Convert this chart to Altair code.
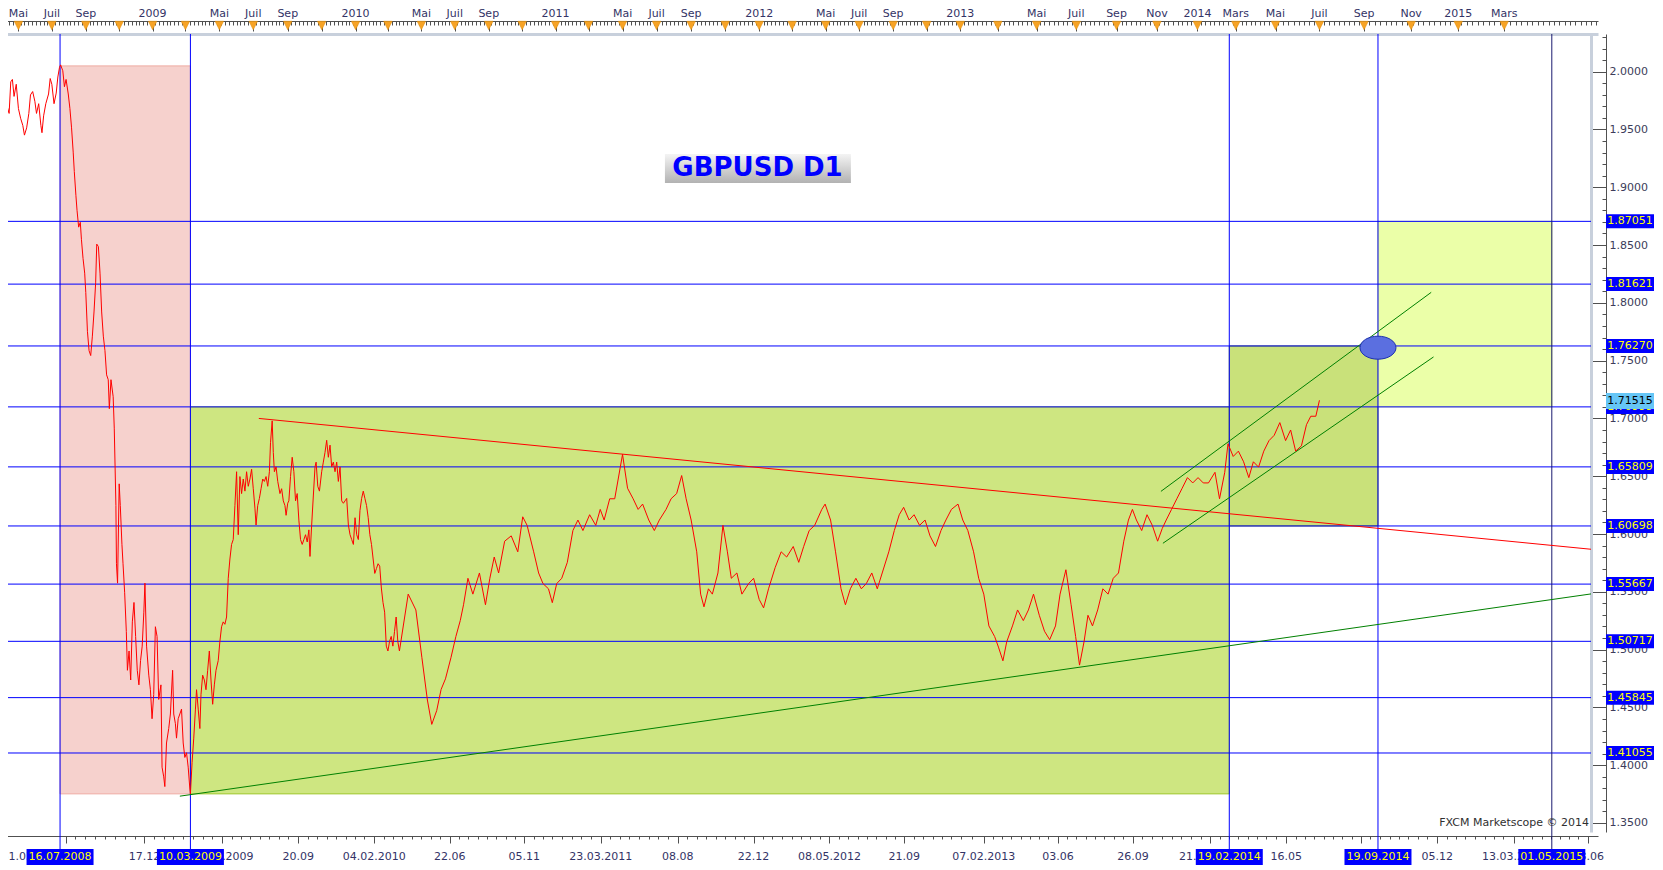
import altair as alt
import pandas as pd

# ---------------------------------------------------------------- data
PRICE_DATES = [
    "2008-03-31", "2008-04-02", "2008-04-06", "2008-04-09", "2008-04-14", "2008-04-17", "2008-04-20",
    "2008-04-23", "2008-04-27", "2008-05-01", "2008-05-05", "2008-05-09", "2008-05-12", "2008-05-16",
    "2008-05-20", "2008-05-23", "2008-05-27", "2008-05-31", "2008-06-03", "2008-06-07", "2008-06-11",
    "2008-06-13", "2008-06-16", "2008-06-20", "2008-06-25", "2008-06-28", "2008-07-01", "2008-07-05",
    "2008-07-09", "2008-07-12", "2008-07-15", "2008-07-17", "2008-07-21", "2008-07-24", "2008-07-27",
    "2008-07-31", "2008-08-03", "2008-08-06", "2008-08-09", "2008-08-11", "2008-08-14", "2008-08-16",
    "2008-08-19", "2008-08-22", "2008-08-24", "2008-08-27", "2008-08-30", "2008-09-01", "2008-09-04",
    "2008-09-07", "2008-09-10", "2008-09-13", "2008-09-16", "2008-09-19", "2008-09-21", "2008-09-24",
    "2008-09-27", "2008-09-30", "2008-10-03", "2008-10-06", "2008-10-09", "2008-10-12", "2008-10-14",
    "2008-10-17", "2008-10-21", "2008-10-23", "2008-10-26", "2008-10-27", "2008-10-29", "2008-11-01",
    "2008-11-03", "2008-11-06", "2008-11-08", "2008-11-11", "2008-11-14", "2008-11-16", "2008-11-19",
    "2008-11-22", "2008-11-25", "2008-11-28", "2008-12-01", "2008-12-04", "2008-12-07", "2008-12-10",
    "2008-12-13", "2008-12-16", "2008-12-18", "2008-12-21", "2008-12-25", "2008-12-28", "2008-12-31",
    "2009-01-03", "2009-01-06", "2009-01-09", "2009-01-12", "2009-01-16", "2009-01-18", "2009-01-21",
    "2009-01-23", "2009-01-26", "2009-01-30", "2009-02-02", "2009-02-06", "2009-02-08", "2009-02-11",
    "2009-02-13", "2009-02-16", "2009-02-19", "2009-02-22", "2009-02-25", "2009-02-28", "2009-03-03",
    "2009-03-06", "2009-03-09", "2009-03-10", "2009-03-13", "2009-03-16", "2009-03-19", "2009-03-21",
    "2009-03-24", "2009-03-27", "2009-03-29", "2009-04-01", "2009-04-04", "2009-04-07", "2009-04-10",
    "2009-04-13", "2009-04-16", "2009-04-19", "2009-04-22", "2009-04-25", "2009-04-29", "2009-05-02",
    "2009-05-05", "2009-05-08", "2009-05-11", "2009-05-14", "2009-05-17", "2009-05-20", "2009-05-23",
    "2009-05-26", "2009-05-29", "2009-06-01", "2009-06-04", "2009-06-07", "2009-06-10", "2009-06-13",
    "2009-06-16", "2009-06-19", "2009-06-22", "2009-06-25", "2009-06-28", "2009-07-01", "2009-07-04",
    "2009-07-06", "2009-07-09", "2009-07-12", "2009-07-15", "2009-07-18", "2009-07-21", "2009-07-24",
    "2009-07-27", "2009-07-30", "2009-08-01", "2009-08-04", "2009-08-06", "2009-08-08", "2009-08-11",
    "2009-08-14", "2009-08-18", "2009-08-21", "2009-08-24", "2009-08-27", "2009-08-29", "2009-09-01",
    "2009-09-03", "2009-09-06", "2009-09-09", "2009-09-12", "2009-09-15", "2009-09-18", "2009-09-21",
    "2009-09-24", "2009-09-27", "2009-09-30", "2009-10-03", "2009-10-06", "2009-10-09", "2009-10-11",
    "2009-10-14", "2009-10-17", "2009-10-20", "2009-10-22", "2009-10-25", "2009-10-28", "2009-11-01",
    "2009-11-04", "2009-11-07", "2009-11-10", "2009-11-13", "2009-11-16", "2009-11-19", "2009-11-22",
    "2009-11-25", "2009-11-28", "2009-12-01", "2009-12-04", "2009-12-07", "2009-12-10", "2009-12-13",
    "2009-12-16", "2009-12-19", "2009-12-22", "2009-12-25", "2009-12-28", "2009-12-31",
    "2010-01-03", "2010-01-06", "2010-01-09", "2010-01-12", "2010-01-15", "2010-01-18", "2010-01-21",
    "2010-01-24", "2010-01-27", "2010-01-30", "2010-02-02", "2010-02-05", "2010-02-08", "2010-02-11",
    "2010-02-14", "2010-02-17", "2010-02-20", "2010-02-23", "2010-02-26", "2010-03-01", "2010-03-04",
    "2010-03-07", "2010-03-10", "2010-03-13", "2010-03-16", "2010-03-19", "2010-03-22", "2010-04-07",
    "2010-04-21", "2010-05-02", "2010-05-12", "2010-05-20", "2010-05-29", "2010-06-06", "2010-06-14",
    "2010-06-24", "2010-07-03", "2010-07-11", "2010-07-17", "2010-07-25", "2010-08-03", "2010-08-15",
    "2010-08-26", "2010-09-03", "2010-09-11", "2010-09-19", "2010-09-30", "2010-10-12", "2010-10-24",
    "2010-11-02", "2010-11-10", "2010-11-22", "2010-12-01", "2010-12-09", "2010-12-19", "2010-12-26",
    "2011-01-03", "2011-01-12", "2011-01-22", "2011-02-01", "2011-02-10", "2011-02-19", "2011-03-03",
    "2011-03-14", "2011-03-22", "2011-03-29", "2011-04-08", "2011-04-17", "2011-04-27", "2011-05-01",
    "2011-05-10", "2011-05-20", "2011-05-29", "2011-06-06", "2011-06-17", "2011-06-27", "2011-07-06",
    "2011-07-18", "2011-07-27", "2011-08-06", "2011-08-15", "2011-08-23", "2011-09-01", "2011-09-11",
    "2011-09-18", "2011-09-24", "2011-10-02", "2011-10-09", "2011-10-19", "2011-10-28", "2011-11-05",
    "2011-11-12", "2011-11-22", "2011-12-01", "2011-12-13", "2011-12-22",
    "2012-01-01", "2012-01-09", "2012-01-18", "2012-01-30", "2012-02-10", "2012-02-20", "2012-03-03",
    "2012-03-13", "2012-03-22", "2012-04-01", "2012-04-11", "2012-04-24", "2012-04-30", "2012-05-10",
    "2012-05-19", "2012-05-29", "2012-06-06", "2012-06-15", "2012-06-25", "2012-07-05", "2012-07-14",
    "2012-07-24", "2012-08-03", "2012-08-12", "2012-08-24", "2012-09-03", "2012-09-12", "2012-09-20",
    "2012-09-30", "2012-10-09", "2012-10-19", "2012-10-29", "2012-11-07", "2012-11-17", "2012-11-27",
    "2012-12-06", "2012-12-16", "2012-12-28",
    "2013-01-05", "2013-01-13", "2013-01-22", "2013-01-30", "2013-02-07", "2013-02-15", "2013-02-24",
    "2013-03-02", "2013-03-09", "2013-03-15", "2013-03-24", "2013-04-01", "2013-04-10", "2013-04-18",
    "2013-04-26", "2013-05-05", "2013-05-13", "2013-05-21", "2013-05-30", "2013-06-06", "2013-06-15",
    "2013-06-23", "2013-06-30", "2013-07-06", "2013-07-13", "2013-07-19", "2013-07-26", "2013-08-03",
    "2013-08-11", "2013-08-19", "2013-08-27", "2013-09-04", "2013-09-12", "2013-09-19", "2013-09-25",
    "2013-10-01", "2013-10-09", "2013-10-17", "2013-10-25", "2013-11-02", "2013-11-09", "2013-11-15",
    "2013-11-23", "2013-12-01", "2013-12-09", "2013-12-17", "2013-12-25",
    "2014-01-02", "2014-01-10", "2014-01-18", "2014-01-28", "2014-02-04", "2014-02-12", "2014-02-17",
    "2014-02-25", "2014-03-05", "2014-03-13", "2014-03-21", "2014-03-28", "2014-04-05", "2014-04-13",
    "2014-04-21", "2014-04-29", "2014-05-07", "2014-05-15", "2014-05-22", "2014-05-29", "2014-06-06",
    "2014-06-13", "2014-06-19", "2014-06-26", "2014-07-01",
]
PRICE_VALUES = [
    1.9912, 1.9954, 1.9786, 1.9723, 1.9639, 1.9912, 1.9933,
    1.9786, 1.9891, 1.9681, 1.9597, 1.9535, 1.9451, 1.9514,
    1.9639, 1.9799, 1.9828, 1.9744, 1.9639, 1.9723, 1.9535,
    1.9472, 1.9618, 1.9723, 1.9807, 1.9941, 1.9891, 1.9723,
    1.9815, 1.9954, 2.0038, 2.0059, 2.0008, 1.9870, 1.9933,
    1.9807, 1.9681, 1.9514, 1.9304, 1.9137, 1.8927, 1.8801,
    1.8655, 1.8697, 1.8550, 1.8383, 1.8257, 1.8089, 1.7754,
    1.7586, 1.7544, 1.7712, 1.7921, 1.8173, 1.8508, 1.8487,
    1.8257, 1.7921, 1.7712, 1.7586, 1.7377, 1.7335, 1.7084,
    1.7335, 1.7188, 1.6916, 1.6246, 1.5743, 1.5575, 1.6434,
    1.6246, 1.5911, 1.5743, 1.5492, 1.5156, 1.4821, 1.4988,
    1.4737, 1.5240, 1.5408, 1.5114, 1.4821, 1.4695, 1.4905,
    1.5030, 1.5324, 1.5575, 1.5030, 1.4779, 1.4653, 1.4402,
    1.4611, 1.5198, 1.5114, 1.4569, 1.4695, 1.3983, 1.3899,
    1.3815, 1.4192, 1.4317, 1.4443, 1.4821, 1.4443, 1.4359,
    1.4234, 1.4402, 1.4443, 1.4485, 1.4192, 1.4067, 1.4108,
    1.3983, 1.3794, 1.3752, 1.4025, 1.4234, 1.4485, 1.4653,
    1.4485, 1.4317, 1.4611, 1.4779, 1.4737, 1.4653, 1.4821,
    1.4988, 1.4737, 1.4527, 1.4695, 1.4821, 1.4905, 1.5072,
    1.5198, 1.5240, 1.5219, 1.5282, 1.5617, 1.5784, 1.5910,
    1.5952, 1.6246, 1.6539, 1.5994, 1.6497, 1.6350, 1.6476,
    1.6371, 1.6539, 1.6413, 1.6476, 1.6560, 1.6392, 1.6224,
    1.6078, 1.6246, 1.6308, 1.6392, 1.6476, 1.6455, 1.6497,
    1.6413, 1.6539, 1.6790, 1.6979, 1.6706, 1.6539, 1.6581,
    1.6455, 1.6350, 1.6392, 1.6287, 1.6246, 1.6162, 1.6267,
    1.6287, 1.6497, 1.6664, 1.6539, 1.6287, 1.6350, 1.6120,
    1.5952, 1.5910, 1.5952, 1.5994, 1.5931, 1.6036, 1.5806,
    1.6078, 1.6329, 1.6581, 1.6622, 1.6413, 1.6371, 1.6539,
    1.6622, 1.6706, 1.6811, 1.6664, 1.6769, 1.6581, 1.6622,
    1.6539, 1.6622, 1.6455, 1.6581, 1.6287, 1.6266, 1.6287,
    1.6308, 1.6078, 1.5994, 1.5952, 1.5910, 1.6141,
    1.5994, 1.5952, 1.6204, 1.6308, 1.6371, 1.6308, 1.6246,
    1.6141, 1.5994, 1.5910, 1.5784, 1.5659, 1.5701, 1.5743,
    1.5722, 1.5533, 1.5408, 1.5324, 1.5030, 1.4988, 1.5072,
    1.5114, 1.5030, 1.5156, 1.5282, 1.5072, 1.4988, 1.5480,
    1.5343, 1.4930, 1.4564, 1.4353, 1.4472, 1.4655, 1.4747,
    1.4930, 1.5113, 1.5251, 1.5388, 1.5617, 1.5480, 1.5663,
    1.5388, 1.5617, 1.5801, 1.5663, 1.5938, 1.5984, 1.5846,
    1.6149, 1.6075, 1.5846, 1.5663, 1.5571, 1.5526, 1.5406,
    1.5571, 1.5617, 1.5755, 1.6030, 1.6121, 1.6030, 1.6167,
    1.6075, 1.6213, 1.6121, 1.6305, 1.6305, 1.6579, 1.6689,
    1.6396, 1.6305, 1.6213, 1.6259, 1.6121, 1.6030, 1.6121,
    1.6213, 1.6305, 1.6350, 1.6506, 1.6305, 1.6121, 1.5846,
    1.5480, 1.5370, 1.5526, 1.5480, 1.5663, 1.6075, 1.5846,
    1.5617, 1.5663, 1.5480, 1.5571, 1.5617,
    1.5434, 1.5361, 1.5526, 1.5709, 1.5846, 1.5801, 1.5892,
    1.5755, 1.5892, 1.6030, 1.6075, 1.6213, 1.6259, 1.6121,
    1.5846, 1.5526, 1.5388, 1.5526, 1.5617, 1.5526, 1.5571,
    1.5663, 1.5526, 1.5663, 1.5846, 1.6030, 1.6167, 1.6231,
    1.6121, 1.6167, 1.6075, 1.6121, 1.5984, 1.5892, 1.6030,
    1.6121, 1.6213, 1.6259,
    1.6121, 1.6030, 1.5846, 1.5617, 1.5480, 1.5205, 1.5113,
    1.5022, 1.4903, 1.5068, 1.5205, 1.5343, 1.5251, 1.5343,
    1.5480, 1.5297, 1.5159, 1.5086, 1.5205, 1.5480, 1.5691,
    1.5388, 1.5113, 1.4866, 1.5068, 1.5297, 1.5205, 1.5343,
    1.5526, 1.5480, 1.5617, 1.5663, 1.5938, 1.6121, 1.6213,
    1.6121, 1.6030, 1.6167, 1.6075, 1.5938, 1.6048, 1.6121,
    1.6213, 1.6305, 1.6396, 1.6488, 1.6442,
    1.6488, 1.6442, 1.6442, 1.6534, 1.6305, 1.6534, 1.6781,
    1.6671, 1.6717, 1.6625, 1.6488, 1.6625, 1.6579, 1.6717,
    1.6808, 1.6854, 1.6964, 1.6808, 1.6900, 1.6717, 1.6763,
    1.6946, 1.7019, 1.7019, 1.7157,
]

LEVELS = [1.87051, 1.81621, 1.76270, 1.70999, 1.65809, 1.60698, 1.55667, 1.50717, 1.45845, 1.41055]
LEVEL_TEXTS = ["1.87051", "1.81621", "1.76270", "1.70999", "1.65809", "1.60698", "1.55667",
               "1.50717", "1.45845", "1.41055"]
CURRENT_PRICE = [1.71515]
CURRENT_TEXT = ["1.71515"]

VLINE_DATES = ["2008-07-16", "2009-03-10", "2014-02-19", "2014-09-19", "2015-05-01"]
VLINE_COLORS = ["#0000ff", "#0000ff", "#0000ff", "#0000ff", "#1a1a70"]

ZONE_X1 = ["2008-07-16", "2009-03-10", "2014-02-19", "2014-09-19"]
ZONE_X2 = ["2009-03-10", "2014-02-19", "2014-09-19", "2015-05-01"]
ZONE_Y1 = [1.3752, 1.3752, 1.60698, 1.70999]
ZONE_Y2 = [2.0050, 1.70999, 1.76270, 1.87051]
ZONE_FILL = ["#f6d1cd", "#cee681", "#c9e17a", "#ebffa8"]
ZONE_STROKE = ["#eeaaa2", "#9cc526", "#6f8f1e", "#d9f07c"]

TREND_ID = ["resistance", "resistance", "support", "support"]
TREND_DATES = ["2009-07-11", "2015-06-22", "2009-02-19", "2015-06-22"]
TREND_VALUES = [1.7000, 1.5868, 1.3732, 1.5482]
TREND_COLORS = ["#ff0000", "#ff0000", "#008000", "#008000"]

CHANNEL_ID = ["upper", "upper", "lower", "lower"]
CHANNEL_DATES = ["2013-11-07", "2014-11-27", "2013-11-10", "2014-11-30"]
CHANNEL_VALUES = [1.6369, 1.8091, 1.5920, 1.7532]

TARGET_DATE = ["2014-09-19"]
TARGET_VALUE = [1.7612]

TITLE_TEXT = "GBPUSD D1"
TITLE_BOX = {"x": "2011-07-16", "x2": "2012-06-16", "y": 1.9037, "y2": 1.9288}
TITLE_POS = {"d": "2011-12-29", "v": 1.9163}

TOP_LABEL_DATES = [
    "2008-05-01", "2008-07-01", "2008-09-01", "2009-01-01", "2009-05-01", "2009-07-01", "2009-09-01",
    "2010-01-01", "2010-05-01", "2010-07-01", "2010-09-01", "2011-01-01", "2011-05-01", "2011-07-01",
    "2011-09-01", "2012-01-01", "2012-05-01", "2012-07-01", "2012-09-01", "2013-01-01", "2013-05-01",
    "2013-07-01", "2013-09-01", "2013-11-01", "2014-01-01", "2014-03-01", "2014-05-01", "2014-07-01",
    "2014-09-01", "2014-11-01", "2015-01-01", "2015-03-01",
]
TOP_LABEL_TEXTS = [
    "Mai", "Juil", "Sep", "2009", "Mai", "Juil", "Sep", "2010", "Mai", "Juil", "Sep", "2011", "Mai",
    "Juil", "Sep", "2012", "Mai", "Juil", "Sep", "2013", "Mai", "Juil", "Sep", "Nov", "2014", "Mars",
    "Mai", "Juil", "Sep", "Nov", "2015", "Mars",
]

BOTTOM_LABEL_DATES = [
    "2008-03-31", "2008-12-17", "2009-05-06", "2009-09-20", "2010-02-04", "2010-06-22", "2010-11-05",
    "2011-03-23", "2011-08-08", "2011-12-22", "2012-05-08", "2012-09-21", "2013-02-07", "2013-06-03",
    "2013-09-26", "2014-01-21", "2014-05-16", "2014-12-05", "2015-03-13", "2015-06-18",
]
BOTTOM_LABEL_TEXTS = [
    "31.03.2008", "17.12", "06.05.2009", "20.09", "04.02.2010", "22.06", "05.11", "23.03.2011",
    "08.08", "22.12", "08.05.2012", "21.09", "07.02.2013", "03.06", "26.09", "21.01.2014", "16.05",
    "05.12", "13.03.2015", "18.06",
]
HIGHLIGHT_DATES = ["2008-07-16", "2009-03-10", "2014-02-19", "2014-09-19", "2015-05-01"]
HIGHLIGHT_TEXTS = ["16.07.2008", "10.03.2009", "19.02.2014", "19.09.2014", "01.05.2015"]
BOTTOM_TICK_EXTRA = ["2008-07-26", "2014-08-28"]

Y_TICK_LABELS = [1.35, 1.40, 1.45, 1.50, 1.55, 1.60, 1.65, 1.70, 1.75, 1.80, 1.85, 1.90, 1.95, 2.00]
WATERMARK = "FXCM Marketscope \u00a9 2014"

# ---------------------------------------------------------------- layout / scales
W, H = 1583, 798
FONT = "DejaVu Sans"

# the platform's time axis is bar based: piecewise mapping of calendar time to pixels
X_ANCHOR_DATES = ["2008-04-01", "2009-01-01", "2010-01-01", "2011-01-01", "2012-01-01", "2013-01-01",
                  "2013-05-01", "2013-09-01", "2014-01-01", "2014-05-01", "2014-09-01", "2015-01-01",
                  "2015-05-01", "2015-07-01"]
X_ANCHOR_PX = [2.0, 152.6, 355.6, 555.6, 759.2, 960.2, 1036.7, 1116.5, 1197.4, 1275.5, 1364.1,
               1458.2, 1551.8, 1598.0]


def ms(s):
    return int(pd.Timestamp(s, tz="UTC").value // 10**6)


def ms_list(seq):
    return [ms(s) for s in seq]


xs = alt.Scale(type="linear", domain=ms_list(X_ANCHOR_DATES),
               range=[p - 8 for p in X_ANCHOR_PX], nice=False, zero=False)
ys = alt.Scale(domain=[1.3422, 2.0326], nice=False, zero=False)

# tick positions
TRI_DATES = [f"{y}-{m:02d}-01" for y in range(2008, 2016) for m in (1, 3, 5, 7, 9, 11)
             if "2008-05-01" <= f"{y}-{m:02d}-01" <= "2015-03-01"]
WEEK_TICKS = [ms(str(d.date())) for d in pd.date_range("2008-03-31", "2015-06-29", freq="7D")]
_bt = sorted(pd.Timestamp(d) for d in BOTTOM_LABEL_DATES[1:] + BOTTOM_TICK_EXTRA)
BOTTOM_MAJOR = [ms(str(t.date())) for t in _bt]
BOTTOM_MINOR = [ms(str((_bt[i] + (_bt[i + 1] - _bt[i]) * k / 8).date()))
                for i in range(len(_bt) - 1) for k in range(1, 8)]
Y_MINOR = [round(1.35 + 0.01 * i, 2) for i in range(69)]

TICK_C = "#505050"
AX_TOP_BORDER = alt.Axis(orient="top", offset=0, domain=True, domainColor="#c8d0dc", domainWidth=3,
                         ticks=False, tickSize=0, labels=False, grid=False, title=None)
AX_TOP_MAJOR = alt.Axis(orient="top", offset=3, domain=False, ticks=True, tickSize=10,
                        tickColor=TICK_C, values=ms_list(TRI_DATES), labels=False,
                        grid=False, title=None)
AX_TOP_MINOR = alt.Axis(orient="top", offset=9, domain=False, ticks=True, tickSize=4,
                        tickColor=TICK_C, values=WEEK_TICKS, labels=False, grid=False, title=None)
AX_TOP_RULER = alt.Axis(orient="top", offset=13, domain=True, domainColor=TICK_C, ticks=False,
                        tickSize=0, labels=False, grid=False, title=None)
AX_BOT_MAJOR = alt.Axis(orient="bottom", offset=4, domain=True, domainColor=TICK_C, ticks=True,
                        tickSize=7, tickColor=TICK_C, values=BOTTOM_MAJOR, labels=False,
                        grid=False, title=None)
AX_BOT_MINOR = alt.Axis(orient="bottom", offset=4, domain=False, ticks=True, tickSize=3,
                        tickColor=TICK_C, values=BOTTOM_MINOR, labels=False, grid=False, title=None)
AX_R_MAJOR = alt.Axis(orient="right", offset=0, domain=True, domainColor="#c8d0dc", domainWidth=3,
                      ticks=True, tickSize=15, tickColor=TICK_C, values=Y_TICK_LABELS,
                      labels=False, grid=False, title=None)
AX_R_MINOR = alt.Axis(orient="right", offset=11, domain=False, ticks=True, tickSize=4,
                      tickColor=TICK_C, values=Y_MINOR, labels=False, grid=False, title=None)
AX_R_LABELS = alt.Axis(orient="right", offset=15, domain=True, domainColor=TICK_C, ticks=False,
                       tickSize=0, values=Y_TICK_LABELS, format=".4f", labelFont=FONT,
                       labelFontSize=11, labelColor="#3c3c5a", labelPadding=3,
                       labelOverlap=False, labelFlush=False, grid=False, title=None)

# ---------------------------------------------------------------- frames (dates -> epoch ms)
def frame(**cols):
    df = pd.DataFrame(cols)
    for c in list(df.columns):
        if c in ("d", "x", "x2"):
            df[c] = ms_list(df[c])
    return df


price = frame(d=PRICE_DATES, v=PRICE_VALUES)
zones = frame(x=ZONE_X1, x2=ZONE_X2, y=ZONE_Y1, y2=ZONE_Y2, fill=ZONE_FILL, stroke=ZONE_STROKE)
levels = frame(v=LEVELS, t=LEVEL_TEXTS)
current = frame(v=CURRENT_PRICE, t=CURRENT_TEXT)
vlines = frame(d=VLINE_DATES, c=VLINE_COLORS)
trends = frame(id=TREND_ID, d=TREND_DATES, v=TREND_VALUES, c=TREND_COLORS)
channel = frame(id=CHANNEL_ID, d=CHANNEL_DATES, v=CHANNEL_VALUES)
target = frame(d=TARGET_DATE, v=TARGET_VALUE)
tri = frame(d=TRI_DATES)
top_lab = frame(d=TOP_LABEL_DATES, t=TOP_LABEL_TEXTS)
bot_lab = frame(d=BOTTOM_LABEL_DATES[1:], t=BOTTOM_LABEL_TEXTS[1:])
bot_first = frame(d=BOTTOM_LABEL_DATES[:1], t=BOTTOM_LABEL_TEXTS[:1])
hi_lab = frame(d=HIGHLIGHT_DATES, t=HIGHLIGHT_TEXTS)
title_box = frame(x=[TITLE_BOX["x"]], x2=[TITLE_BOX["x2"]], y=[TITLE_BOX["y"]], y2=[TITLE_BOX["y2"]])
title_pos = frame(d=[TITLE_POS["d"]], v=[TITLE_POS["v"]], t=[TITLE_TEXT])

NOX = dict(scale=xs, axis=None)
NOY = dict(scale=ys, axis=None)

l_zones = alt.Chart(zones).mark_rect(strokeWidth=1).encode(
    x=alt.X("x:Q", scale=xs, axis=AX_TOP_BORDER), x2="x2:Q",
    y=alt.Y("y:Q", scale=ys, axis=AX_R_MAJOR), y2="y2:Q",
    fill=alt.Fill("fill:N", scale=None), stroke=alt.Stroke("stroke:N", scale=None))

l_levels = alt.Chart(levels).mark_rule(color="#0000ff", strokeWidth=1).encode(
    y=alt.Y("v:Q", **NOY))

l_vlines = alt.Chart(vlines).mark_rule(strokeWidth=1).encode(
    x=alt.X("d:Q", scale=xs, axis=AX_TOP_MAJOR), y=alt.value(0), y2=alt.value(815),
    color=alt.Color("c:N", scale=None))

l_trend = alt.Chart(trends).mark_line(strokeWidth=1, clip=True).encode(
    x=alt.X("d:Q", scale=xs, axis=AX_TOP_RULER), y=alt.Y("v:Q", scale=ys, axis=AX_R_LABELS),
    color=alt.Color("c:N", scale=None), detail="id:N")

l_channel = alt.Chart(channel).mark_line(strokeWidth=1, color="#008000", clip=True).encode(
    x=alt.X("d:Q", scale=xs, axis=AX_BOT_MAJOR), y=alt.Y("v:Q", **NOY), detail="id:N")

l_price = alt.Chart(price).mark_line(strokeWidth=1, color="#ff0000", clip=True).encode(
    x=alt.X("d:Q", scale=xs, axis=AX_TOP_MINOR), y=alt.Y("v:Q", scale=ys, axis=AX_R_MINOR))

ELLIPSE = "M -1 0 A 1 0.64 0 1 1 1 0 A 1 0.64 0 1 1 -1 0 Z"
l_target = alt.Chart(target).mark_point(shape=ELLIPSE, size=1296, filled=True, fill="#5b6fe0",
                                        stroke="#1c2fb0", strokeWidth=1, opacity=1).encode(
    x=alt.X("d:Q", **NOX), y=alt.Y("v:Q", **NOY))

TRI_SHAPE = "M -1 -1 L 1 -1 L 0 1 Z"
l_tri = alt.Chart(tri).mark_point(shape=TRI_SHAPE, size=72, filled=True, fill="#f7a325",
                                  stroke="#e08a00", strokeWidth=0.5, opacity=1).encode(
    x=alt.X("d:Q", scale=xs, axis=AX_BOT_MINOR), y=alt.value(-8.5))

l_top_lab = alt.Chart(top_lab).mark_text(font=FONT, fontSize=11, color="#333366",
                                         baseline="middle").encode(
    x=alt.X("d:Q", **NOX), y=alt.value(-20), text="t:N")

grad = alt.LinearGradient(gradient="linear", x1=0, x2=0, y1=0, y2=1,
                          stops=[alt.GradientStop(color="#f4f4f4", offset=0),
                                 alt.GradientStop(color="#b2b2b2", offset=1)])
l_title_box = alt.Chart(title_box).mark_rect(fill=grad).encode(
    x=alt.X("x:Q", **NOX), x2="x2:Q", y=alt.Y("y:Q", **NOY), y2="y2:Q")
l_title = alt.Chart(title_pos).mark_text(font=FONT, fontSize=26, fontWeight="bold",
                                         color="#0000ff", baseline="middle").encode(
    x=alt.X("d:Q", **NOX), y=alt.Y("v:Q", **NOY), text="t:N")

l_bot_lab = alt.Chart(bot_lab).mark_text(font=FONT, fontSize=11, color="#333366",
                                         baseline="middle").encode(
    x=alt.X("d:Q", **NOX), y=alt.value(823), text="t:N")
l_bot_first = alt.Chart(bot_first).mark_text(font=FONT, fontSize=11, color="#333366",
                                             baseline="middle", align="left").encode(
    x=alt.X("d:Q", **NOX), y=alt.value(823), text="t:N")
l_hi_box = alt.Chart(hi_lab).mark_rect(color="#0000ff", xOffset=-33.5, x2Offset=33.5).encode(
    x=alt.X("d:Q", **NOX), x2="d:Q", y=alt.value(815), y2=alt.value(831))
l_hi_txt = alt.Chart(hi_lab).mark_text(font=FONT, fontSize=11, color="#ffff00",
                                       baseline="middle").encode(
    x=alt.X("d:Q", **NOX), y=alt.value(823), text="t:N")

l_lvl_box = alt.Chart(levels).mark_rect(color="#0000ff", yOffset=-7, y2Offset=7).encode(
    x=alt.value(W + 15), x2=alt.value(W + 63), y=alt.Y("v:Q", **NOY), y2="v:Q")
l_lvl_txt = alt.Chart(levels).mark_text(font=FONT, fontSize=11, color="#ffff00",
                                        baseline="middle").encode(
    x=alt.value(W + 39), y=alt.Y("v:Q", **NOY), text="t:N")
l_cur_box = alt.Chart(current).mark_rect(color="#66c6f6", yOffset=-8, y2Offset=8).encode(
    x=alt.value(W + 15), x2=alt.value(W + 63), y=alt.Y("v:Q", **NOY), y2="v:Q")
l_cur_txt = alt.Chart(current).mark_text(font=FONT, fontSize=11, color="#000000",
                                         baseline="middle").encode(
    x=alt.value(W + 39), y=alt.Y("v:Q", **NOY), text="t:N")

l_wm = alt.Chart(pd.DataFrame({"t": [WATERMARK]})).mark_text(
    font=FONT, fontSize=11, color="#303030", align="right", baseline="middle").encode(
    x=alt.value(W - 2), y=alt.value(H - 9), text="t:N")

chart = alt.layer(
    l_zones, l_levels, l_vlines, l_trend, l_channel, l_price, l_target, l_tri, l_top_lab,
    l_title_box, l_title, l_bot_lab, l_bot_first, l_hi_box, l_hi_txt,
    l_lvl_box, l_lvl_txt, l_cur_box, l_cur_txt, l_wm,
).resolve_axis(x="independent", y="independent").properties(
    width=W, height=H,
    autosize=alt.AutoSizeParams(type="none"),
    padding={"left": 0, "top": 26, "right": 64, "bottom": 36},
    background="white",
).configure_view(stroke=None)

chart.save("out.html", embed_options={"renderer": "svg", "actions": False})
